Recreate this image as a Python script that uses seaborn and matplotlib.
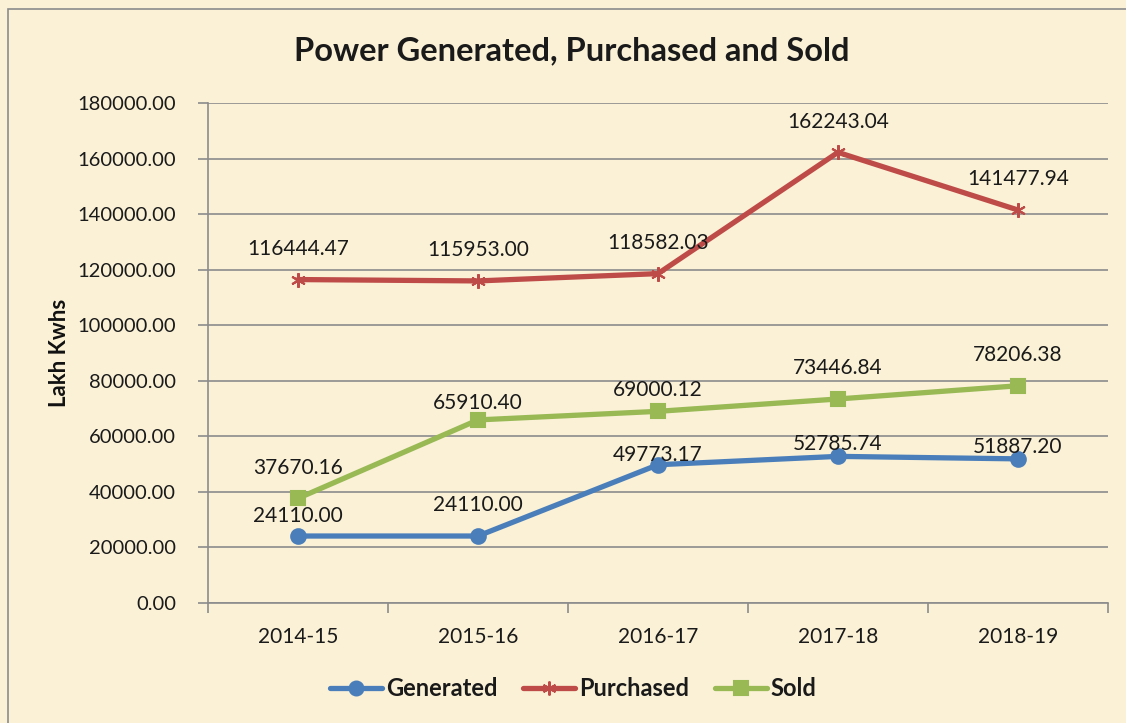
import pandas as pd
import numpy as np
import matplotlib.pyplot as plt
import matplotlib.patches as mpatches
import seaborn as sns

# values (Lakh Kwhs)
years = ['2014-15', '2015-16', '2016-17', '2017-18', '2018-19']
generated = [24110.00, 24110.00, 49773.17, 52785.74, 51887.20]
purchased = [116444.47, 115953.00, 118582.03, 162243.04, 141477.94]
sold = [37670.16, 65910.40, 69000.12, 73446.84, 78206.38]

series_names = ['Generated', 'Purchased', 'Sold']
series_colors = ['#4a7ebb', '#be4b48', '#98b954']
series_markers = ['o', (6, 2, 0), 's']

# vertical offset of each data label (points above the marker)
label_dy = {
    'Generated': [7, 15, 0, 2, 1],
    'Purchased': [15, 15, 15, 15, 15],
    'Sold': [15, 5, 8, 15, 15],
}

# long form table for seaborn
rows = []
for name, vals in zip(series_names, [generated, purchased, sold]):
    for i, (yr, v) in enumerate(zip(years, vals)):
        rows.append({'year': yr, 'pos': i, 'value': v, 'series': name})
df = pd.DataFrame(rows)

bg = '#faf1d6'
sns.set_style('white')
plt.rcParams['font.family'] = ['Lato', 'DejaVu Sans']

fig = plt.figure(figsize=(11.26, 7.23), dpi=100, facecolor=bg)
ax = fig.add_axes([0.1847, 0.166, 0.7993, 0.6915])
ax.set_facecolor('none')

# outer chart border
fig.patches.append(mpatches.Rectangle((8 / 1126, -0.01), 1.02, 1 - 9 / 723 + 0.01,
                                      transform=fig.transFigure, fill=False,
                                      edgecolor='#8c8c8c', linewidth=1.2))

# one lineplot per series (filled and line markers can't be mixed in one call)
for name, c, m in zip(series_names, series_colors, series_markers):
    sub = df[df['series'] == name]
    sns.lineplot(data=sub, x='pos', y='value', color=c, marker=m,
                 linewidth=3.8, markersize=10.5, markeredgewidth=1.5,
                 markeredgecolor=c, markerfacecolor=c, ax=ax, legend=False)

# data labels
for name, vals in zip(series_names, [generated, purchased, sold]):
    for i, v in enumerate(vals):
        ax.annotate(f'{v:.2f}', (i, v), xytext=(0, label_dy[name][i]),
                    textcoords='offset points', ha='center', va='bottom',
                    fontsize=15, color='#1a1a1a')

ax.set_xlim(-0.5, 4.5)
ax.set_ylim(0, 180000)
ax.set_yticks(np.arange(0, 180001, 20000))
ax.set_yticklabels([f'{t:.2f}' for t in np.arange(0, 180001, 20000)])
ax.set_xticks(range(len(years)))
ax.set_xticklabels(years)
ax.set_xticks(np.arange(-0.5, 5, 1), minor=True)
ax.tick_params(axis='x', which='major', length=0, pad=17, labelsize=15, labelcolor='#1a1a1a')
ax.tick_params(axis='x', which='minor', length=7, color='#8c8c8c', width=1.2, bottom=True)
ax.tick_params(axis='y', length=7, color='#8c8c8c', width=1.2, pad=16,
               labelsize=14.5, labelcolor='#1a1a1a', left=True)
ax.yaxis.grid(True, color='#8c8c8c', linewidth=1.2)
ax.set_axisbelow(True)
for side in ['top', 'right']:
    ax.spines[side].set_visible(False)
for side in ['left', 'bottom']:
    ax.spines[side].set_color('#8c8c8c')
    ax.spines[side].set_linewidth(1.2)

ax.set_xlabel('')
ax.set_ylabel('Lakh Kwhs', fontsize=16, fontweight='bold', color='#111111', labelpad=5)

fig.text(0.508, 0.93, 'Power Generated, Purchased and Sold', ha='center', va='center',
         fontsize=23.5, fontweight='bold', color='#1a1a1a')

handles = [plt.Line2D([], [], color=c, marker=m, linewidth=3.8, markersize=10,
                      markeredgewidth=1.5, markeredgecolor=c)
           for c, m in zip(series_colors, series_markers)]
leg = fig.legend(handles, series_names, loc='center', bbox_to_anchor=(0.509, 0.048),
                 ncol=3, frameon=False, handlelength=2.2, columnspacing=1.1,
                 handletextpad=0.15, prop={'size': 17, 'weight': 'bold'})
for t in leg.get_texts():
    t.set_color('#1a1a1a')

plt.savefig('out.png', dpi=100, facecolor=bg)
